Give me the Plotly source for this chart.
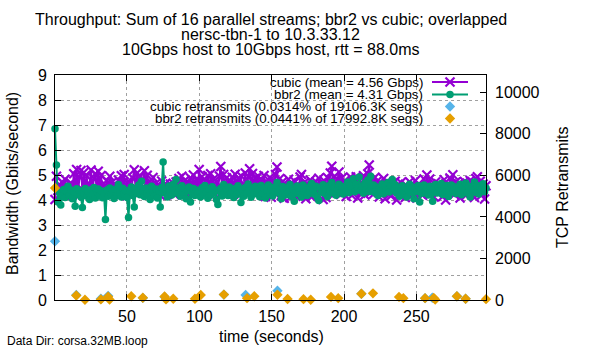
import numpy as np
import plotly.graph_objects as go

# ---------------- data ----------------
cubic_bw = [
    4.02, 4.95, 4.38, 4.62, 4.25, 4.71, 4.40, 4.83, 4.30, 4.58, 4.45, 4.68, 4.20, 5.05, 4.35, 5.22, 4.28, 4.92, 5.18, 4.42,
    5.10, 4.33, 4.96, 4.25, 4.64, 5.20, 4.38, 4.85, 5.05, 4.30, 5.15, 4.41, 4.98, 4.22, 4.66, 4.36, 4.78, 4.27, 4.95, 4.44,
    4.73, 4.29, 4.62, 4.40, 4.80, 4.18, 4.97, 4.45, 5.02, 4.31, 4.71, 4.24, 4.69, 4.39, 4.88, 5.21, 4.34, 5.08, 4.26, 4.93,
    4.47, 4.81, 5.17, 4.35, 4.99, 4.28, 4.74, 4.43, 4.90, 4.22, 4.66, 4.37, 4.58, 4.19, 4.76, 4.32, 4.63, 4.41, 4.56, 4.27,
    4.64, 4.36, 4.67, 4.21, 4.72, 4.45, 4.86, 4.30, 4.95, 4.39, 4.78, 4.24, 4.70, 4.42, 4.88, 4.33, 5.00, 4.46, 4.82, 4.29,
    5.22, 4.40, 4.93, 4.26, 4.75, 4.48, 4.98, 4.31, 5.05, 4.37, 4.84, 4.23, 4.73, 4.44, 4.96, 5.34, 4.35, 5.02, 4.28, 4.88,
    4.41, 4.79, 4.30, 4.91, 4.24, 5.03, 4.45, 4.86, 4.33, 4.97, 4.40, 4.62, 5.08, 4.27, 4.93, 5.25, 4.38, 5.06, 4.29, 4.87,
    4.46, 4.95, 4.32, 4.83, 4.20, 4.98, 4.14, 4.72, 4.36, 4.90, 4.11, 4.79, 4.30, 5.02, 5.32, 4.42, 4.86, 4.18, 4.74, 4.07,
    4.62, 4.31, 4.83, 4.09, 4.69, 4.25, 4.77, 4.15, 4.60, 4.38, 4.92, 5.02, 4.21, 4.70, 4.05, 4.63, 4.34, 4.80, 4.12, 4.66,
    4.45, 4.73, 4.19, 4.87, 4.28, 4.69, 4.02, 4.75, 4.10, 4.90, 4.36, 5.08, 5.35, 4.22, 4.95, 4.30, 4.83, 5.12, 4.26, 4.88,
    4.35, 4.77, 4.14, 4.60, 4.40, 4.92, 4.18, 4.74, 4.33, 4.93, 4.08, 4.81, 4.27, 4.62, 4.97, 4.20, 4.85, 5.05, 5.40, 4.31,
    4.69, 4.24, 4.91, 4.36, 4.78, 4.12, 4.61, 4.29, 4.86, 4.05, 4.72, 4.38, 4.67, 4.16, 4.58, 4.32, 4.75, 4.00, 4.63, 4.22,
    4.70, 4.36, 4.52, 4.10, 4.57, 4.45, 4.73, 4.15, 4.60, 4.30, 4.78, 4.08, 4.62, 4.40, 4.55, 4.19, 4.84, 4.33, 5.00, 4.25,
    4.84, 4.35, 4.60, 4.12, 4.72, 4.28, 4.65, 4.38, 4.50, 4.14, 4.81, 4.00, 4.55, 4.46, 4.88, 4.30, 5.01, 4.22, 4.72, 4.40,
    4.65, 4.08, 4.60, 4.33, 4.74, 4.18, 4.67, 4.41, 4.78, 4.26, 4.69, 4.10, 4.86, 4.93, 4.35, 4.75, 4.20, 4.64, 4.04, 4.57,
]

bbr2_bw = [
    6.85, 5.40, 3.92, 4.30, 3.80, 4.25, 4.42, 4.10, 4.35, 4.55, 4.18, 4.40, 4.05, 4.32, 3.75, 4.45, 4.22, 4.38, 4.12, 3.70,
    4.28, 4.46, 4.15, 4.36, 4.02, 4.41, 4.20, 4.50, 4.08, 4.33, 4.44, 4.18, 4.37, 4.09, 4.26, 3.22, 4.40, 4.15, 4.48, 4.22,
    4.35, 4.06, 4.43, 4.19, 4.62, 4.30, 4.12, 4.47, 4.24, 4.38, 4.10, 3.30, 4.36, 4.52, 4.18, 3.72, 4.42, 4.27, 4.60, 4.21,
    4.75, 4.33, 4.14, 4.48, 4.26, 4.40, 4.02, 4.55, 4.30, 4.17, 4.44, 4.08, 4.36, 3.72, 4.50, 5.52, 4.28, 4.43, 4.12, 4.56,
    4.34, 4.20, 4.62, 4.39, 4.82, 4.27, 4.48, 4.15, 4.57, 4.31, 4.44, 4.05, 4.38, 4.52, 3.92, 4.29, 4.46, 4.18, 4.40, 4.25,
    4.36, 4.12, 4.49, 4.23, 4.58, 4.31, 4.07, 4.44, 4.20, 4.53, 4.28, 4.40, 4.02, 3.82, 4.35, 4.47, 4.16, 4.62, 4.29, 4.41,
    4.18, 4.52, 4.25, 4.38, 4.10, 4.46, 4.22, 4.57, 4.31, 3.90, 4.43, 4.15, 4.50, 4.27, 4.64, 4.35, 4.11, 4.48, 4.24, 4.55,
    4.30, 4.43, 4.13, 4.58, 4.26, 4.47, 4.08, 4.39, 4.60, 4.22, 4.45, 4.16, 4.51, 4.33, 4.70, 4.28, 4.42, 4.05, 4.54, 4.37,
    4.20, 4.49, 4.31, 4.62, 4.15, 4.44, 3.95, 4.38, 4.56, 4.25, 4.47, 4.12, 4.60, 4.34, 4.43, 4.18, 4.52, 4.29, 4.66, 4.40,
    4.23, 4.55, 4.10, 3.98, 4.48, 4.32, 4.61, 4.26, 4.45, 4.14, 4.57, 4.36, 4.70, 4.28, 4.50, 4.19, 4.42, 4.63, 4.31, 4.54,
    4.24, 4.47, 4.35, 4.72, 4.29, 4.58, 4.40, 4.85, 4.33, 4.62, 4.46, 4.92, 4.38, 4.55, 4.27, 4.68, 4.41, 4.80, 4.34, 4.95,
    4.45, 4.60, 4.30, 4.52, 4.18, 4.47, 4.36, 4.64, 4.25, 4.55, 4.40, 4.70, 4.32, 4.58, 4.82, 4.44, 4.61, 4.28, 4.50, 4.15,
    4.42, 4.57, 4.26, 4.49, 4.12, 4.40, 4.63, 4.31, 4.52, 4.05, 4.46, 4.34, 4.58, 3.92, 4.43, 4.27, 4.60, 4.36, 4.48, 4.20,
    4.55, 4.30, 3.95, 4.44, 4.62, 4.28, 4.51, 4.38, 4.66, 4.22, 4.47, 4.35, 4.58, 4.14, 4.45, 4.60, 4.32, 4.53, 4.26, 4.49,
    4.37, 4.63, 4.21, 4.50, 4.34, 4.68, 4.28, 4.55, 4.12, 4.46, 4.39, 4.72, 4.30, 4.58, 4.24, 4.52, 4.41, 4.65, 4.33, 4.48,
]

# sampling times (seconds)
times = np.linspace(0.3, 298.1, len(cubic_bw))

cubic_rtx_t = [0.3, 15, 32, 37, 61, 76, 117, 132, 154, 212, 256, 261, 278, 284]
cubic_rtx = [2830, 240, 60, 200, 100, 150, 260, 240, 450, 300, 90, 110, 180, 60]

bbr2_rtx_t = [0.3, 15, 21, 32, 37, 38, 53, 61, 76, 77, 82, 97, 101, 117, 133, 138, 154, 161,
              172, 177, 191, 196, 212, 220, 238, 241, 256, 262, 263, 278, 284, 298.1]
bbr2_rtx = [5390, 220, 10, 30, 160, 20, 180, 110, 170, 30, 60, 60, 240, 260, 90, 180, 250, 50,
            40, 10, 150, 90, 300, 320, 150, 90, 90, 100, 20, 180, 60, 40]

x_ticks = [50, 100, 150, 200, 250]
y_ticks = [0, 1, 2, 3, 4, 5, 6, 7, 8, 9]
y2_ticks = [0, 2000, 4000, 6000, 8000, 10000]

legend_labels = [
    "cubic (mean = 4.56 Gbps)",
    "bbr2 (mean = 4.31 Gbps)",
    "cubic retransmits (0.0314% of 19106.3K segs)",
    "bbr2 retransmits (0.0441% of 17992.8K segs)",
]
title_lines = [
    "Throughput: Sum of 16 parallel streams; bbr2 vs cubic; overlapped",
    "nersc-tbn-1 to 10.3.33.12",
    "10Gbps host to 10Gbps host, rtt = 88.0ms",
]

# ---------------- styling ----------------
PURPLE = "#9400D3"
GREEN = "#009E73"
BLUE = "#56B4E9"
ORANGE = "#E69F00"
FONT = "Liberation Sans, Arial, sans-serif"

L, R, T, B = 55, 486, 75, 300
W, H = 600, 350


def px(x):
    return (x - L) / (R - L)


def py(y):
    return (B - y) / (B - T)


fig = go.Figure()

fig.add_trace(go.Scatter(
    x=times, y=cubic_bw, mode="lines+markers",
    line=dict(color=PURPLE, width=2),
    marker=dict(symbol="x-thin", size=9, line=dict(color=PURPLE, width=2.2), color=PURPLE),
    cliponaxis=False, showlegend=False))

fig.add_trace(go.Scatter(
    x=times, y=bbr2_bw, mode="lines+markers",
    line=dict(color=GREEN, width=2),
    marker=dict(symbol="circle", size=7.5, color=GREEN, line=dict(width=0)),
    cliponaxis=False, showlegend=False))

fig.add_trace(go.Scatter(
    x=cubic_rtx_t, y=cubic_rtx, yaxis="y2", mode="markers",
    marker=dict(symbol="diamond", size=8, color=BLUE, line=dict(width=0)),
    cliponaxis=False, showlegend=False))

fig.add_trace(go.Scatter(
    x=bbr2_rtx_t, y=bbr2_rtx, yaxis="y2", mode="markers",
    marker=dict(symbol="diamond", size=8, color=ORANGE, line=dict(width=0)),
    cliponaxis=False, showlegend=False))

# legend key samples on a pixel-coordinate overlay axis
key_rows = [82, 94.5, 106.5, 118.5]
fig.add_trace(go.Scatter(
    x=[432, 468], y=[key_rows[0]] * 2, xaxis="x3", yaxis="y3", mode="lines",
    line=dict(color=PURPLE, width=2), showlegend=False, hoverinfo="skip"))
fig.add_trace(go.Scatter(
    x=[450], y=[key_rows[0]], xaxis="x3", yaxis="y3", mode="markers",
    marker=dict(symbol="x-thin", size=9, line=dict(color=PURPLE, width=2.2)),
    showlegend=False, hoverinfo="skip"))
fig.add_trace(go.Scatter(
    x=[432, 468], y=[key_rows[1]] * 2, xaxis="x3", yaxis="y3", mode="lines",
    line=dict(color=GREEN, width=2), showlegend=False, hoverinfo="skip"))
fig.add_trace(go.Scatter(
    x=[450], y=[key_rows[1]], xaxis="x3", yaxis="y3", mode="markers",
    marker=dict(symbol="circle", size=7.5, color=GREEN),
    showlegend=False, hoverinfo="skip"))
fig.add_trace(go.Scatter(
    x=[450], y=[key_rows[2]], xaxis="x3", yaxis="y3", mode="markers",
    marker=dict(symbol="diamond", size=8, color=BLUE),
    showlegend=False, hoverinfo="skip"))
fig.add_trace(go.Scatter(
    x=[450], y=[key_rows[3]], xaxis="x3", yaxis="y3", mode="markers",
    marker=dict(symbol="diamond", size=8, color=ORANGE),
    showlegend=False, hoverinfo="skip"))

annotations = []
for lab, ry in zip(legend_labels, key_rows):
    annotations.append(dict(
        text=lab, x=px(425), y=py(ry), xref="paper", yref="paper",
        xanchor="right", yanchor="middle", showarrow=False,
        font=dict(size=13.3, color="black", family=FONT)))

for line, ty in zip(title_lines, [20, 35, 50]):
    annotations.append(dict(
        text=line, x=0.5, y=py(ty), xref="paper", yref="paper",
        xanchor="center", yanchor="middle", showarrow=False,
        font=dict(size=16, color="black", family=FONT)))

annotations.append(dict(
    text="Bandwidth (Gbits/second)", x=px(12), y=py(184), xref="paper", yref="paper",
    textangle=-90, xanchor="center", yanchor="middle", showarrow=False,
    font=dict(size=16, color="black", family=FONT)))
annotations.append(dict(
    text="TCP Retransmits", x=px(562), y=py(187), xref="paper", yref="paper",
    textangle=-90, xanchor="center", yanchor="middle", showarrow=False,
    font=dict(size=16, color="black", family=FONT)))
annotations.append(dict(
    text="time (seconds)", x=px(271), y=py(336), xref="paper", yref="paper",
    xanchor="center", yanchor="middle", showarrow=False,
    font=dict(size=16, color="black", family=FONT)))
annotations.append(dict(
    text="Data Dir: corsa.32MB.loop", x=px(5), y=py(341), xref="paper", yref="paper",
    xanchor="left", yanchor="middle", showarrow=False,
    font=dict(size=12, color="black", family=FONT)))

# opaque key box (gnuplot legend background, hides grid lines behind the key)
shapes = [dict(type="rect", xref="paper", yref="paper",
               x0=px(148), x1=px(474), y0=py(125), y1=py(76),
               fillcolor="white", line=dict(width=0), layer="between")]

grid = dict(showgrid=True, gridcolor="#a0a0a0", gridwidth=1, griddash="3px,3px")

fig.update_layout(
    width=W, height=H,
    margin=dict(l=L, r=W - R, t=T, b=H - B, pad=0),
    paper_bgcolor="white", plot_bgcolor="white",
    font=dict(family=FONT, size=16, color="black"),
    showlegend=False,
    annotations=annotations,
    shapes=shapes,
    xaxis=dict(range=[0.3, 298.1], tickmode="array", tickvals=x_ticks,
               ticks="inside", ticklen=6, tickcolor="black", tickwidth=1,
               showline=True, linecolor="black", linewidth=1, mirror="ticks",
               zeroline=False, tickfont=dict(size=16), ticklabelstandoff=2, **grid),
    yaxis=dict(range=[0, 9], tickmode="array", tickvals=y_ticks,
               ticks="inside", ticklen=6, tickcolor="black", tickwidth=1,
               showline=True, linecolor="black", linewidth=1, mirror=True,
               zeroline=False, tickfont=dict(size=16), ticklabelstandoff=4, **grid),
    yaxis2=dict(range=[0, 10833], overlaying="y", side="right", tickmode="array",
                tickvals=y2_ticks, tickformat="d", ticks="inside", ticklen=6,
                tickcolor="black", showline=False, showgrid=False, zeroline=False,
                tickfont=dict(size=16), ticklabelstandoff=8),
    xaxis3=dict(range=[L, R], overlaying="x", visible=False, fixedrange=True),
    yaxis3=dict(range=[B, T], overlaying="y", visible=False, fixedrange=True),
)

fig.write_html("out.html")
